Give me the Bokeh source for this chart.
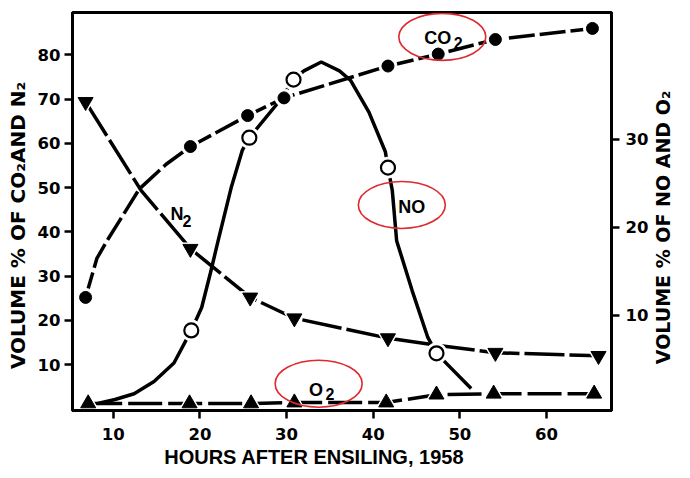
import math
from bokeh.plotting import figure
from bokeh.models import Range1d, LinearAxis, FixedTicker
from bokeh.core.properties import value
from bokeh.embed import file_html
from bokeh.resources import INLINE

# ---- data ----
co2_hours = [6.8, 18.9, 25.5, 29.7, 41.7, 47.5, 54.1, 65.3]
co2 = [25.2, 59.3, 66.3, 70.3, 77.5, 80.2, 83.5, 86.0]
co2_curve_hours = [6.8, 8.1, 9.4, 13.0, 16.1, 18.9, 25.5, 29.7, 41.7, 47.5, 54.1, 65.3]
co2_curve = [25.2, 34.0, 38.4, 49.7, 55.3, 59.3, 66.3, 70.3, 77.5, 80.2, 83.5, 86.0]

n2_hours = [6.8, 18.9, 25.8, 30.9, 41.7, 54.1, 66.0]
n2 = [69.4, 36.2, 25.2, 20.5, 16.0, 12.7, 12.0]
n2_curve_hours = [6.8, 13.2, 18.9, 25.8, 30.9, 41.7, 47.3, 54.1, 66.0]
n2_curve = [69.4, 49.4, 36.2, 25.2, 20.5, 16.0, 14.4, 12.7, 12.0]

o2_hours = [7.1, 18.8, 25.9, 30.9, 41.5, 47.3, 53.9, 65.5]
o2 = [0.0, 0.0, 0.0, 0.1, 0.1, 1.0, 1.1, 1.1]

no_hours = [19.0, 25.7, 30.8, 41.7, 47.3]
no = [8.3, 30.2, 36.8, 26.8, 5.7]
no_curve_hours = [8.2, 10.2, 12.4, 14.7, 17.0, 19.0, 20.2, 21.2, 22.1, 23.6, 24.9, 25.7,
                  29.2, 30.8, 32.0, 34.0, 36.1, 37.4, 39.5, 41.4, 41.7, 42.2, 42.7,
                  44.5, 46.3, 47.3, 48.5, 51.3]
no_curve = [0.0, 0.45, 1.1, 2.5, 4.6, 8.3, 10.9, 14.8, 18.5, 24.5, 28.8, 30.2,
            34.4, 36.8, 37.8, 38.8, 37.8, 36.7, 33.1, 28.6, 26.8, 24.2, 18.5,
            12.8, 7.5, 5.7, 4.5, 1.7]

x_ticks = [10, 20, 30, 40, 50, 60]
left_ticks = [10, 20, 30, 40, 50, 60, 70, 80]
right_ticks = [10, 20, 30]

label_x = [45.9, 16.6, 42.9, 32.6]
label_y = [83.8, 44.1, 45.7, 4.2]
label_text = ["CO", "N", "NO", "O"]
sub_x = [49.3, 18.0, 34.5]
sub_y = [82.6, 42.5, 3.3]
sub_text = ["2", "2", "2"]

ell_x = [47.97, 43.3, 33.7]
ell_y = [84.1, 46.1, 5.7]

FONT = "Liberation Sans"
WIDE = "DejaVu Sans"
RED = "#dc2a2f"
NB = "\u00a0"

p = figure(width=688, height=476, output_backend="svg", toolbar_location=None,
           x_range=Range1d(5.29, 67.5), y_range=Range1d(-0.36, 89.6),
           min_border_left=72, min_border_right=68, min_border_top=12, min_border_bottom=66)
p.extra_y_ranges = {"r": Range1d(-0.8, 44.43)}
p.grid.visible = False
p.outline_line_color = "black"
p.outline_line_width = 3
p.background_fill_color = "white"
p.border_fill_color = "white"

def style_axis(ax, ticks):
    ax.ticker = FixedTicker(ticks=ticks)
    ax.axis_line_width = 3
    ax.axis_line_color = "black"
    ax.major_tick_line_width = 2.5
    ax.major_tick_out = 8
    ax.major_tick_in = 0
    ax.minor_tick_line_color = None
    ax.major_label_text_font = WIDE
    ax.major_label_text_font_style = "bold"
    ax.major_label_text_font_size = "16.5px"
    ax.major_label_text_color = "black"
    ax.axis_label_text_font_style = "bold"
    ax.axis_label_text_color = "black"

style_axis(p.xaxis[0], x_ticks)
p.xaxis[0].axis_label = "HOURS AFTER ENSILING, 1958" + NB * 10
p.xaxis[0].axis_label_text_font = FONT
p.xaxis[0].axis_label_text_font_size = "20px"
p.xaxis[0].major_label_standoff = 9
p.xaxis[0].axis_label_standoff = 3

style_axis(p.yaxis[0], left_ticks)
p.yaxis[0].axis_label = "VOLUME % OF CO\u2082AND N\u2082" + NB * 4
p.yaxis[0].axis_label_text_font = WIDE
p.yaxis[0].axis_label_text_font_size = "20px"
p.yaxis[0].major_label_standoff = 4
p.yaxis[0].axis_label_standoff = 5

rax = LinearAxis(y_range_name="r")
style_axis(rax, right_ticks)
rax.major_label_standoff = 6
rax.axis_label_text_font = WIDE
rax.axis_label_text_font_size = "19px"
rax.axis_label_standoff = 12
rax.axis_label_orientation = math.pi / 2
rax.axis_label_align = "start"
rax.axis_label = NB * 7 + "VOLUME % OF NO AND O\u2082"
p.add_layout(rax, "right")

LW = 3.5
DASH = "26 5"
p.line(co2_curve_hours, co2_curve, line_color="black", line_width=LW, line_dash=DASH)
p.line(n2_curve_hours, n2_curve, line_color="black", line_width=LW, line_dash="40 5")
p.line(o2_hours, o2, line_color="black", line_width=LW, line_dash="34 6", y_range_name="r")
p.line(no_curve_hours, no_curve, line_color="black", line_width=LW, y_range_name="r")

# white halos around markers
p.scatter(co2_hours, co2, marker="circle", size=18, color="white")
p.scatter(n2_hours, n2, marker="inverted_triangle", size=20, color="white")
p.scatter(o2_hours, o2, marker="triangle", size=20, color="white", y_range_name="r")
p.scatter(no_hours, no, marker="circle", size=21, color="white", y_range_name="r")

p.scatter(co2_hours, co2, marker="circle", size=12, color="black")
p.scatter(n2_hours, n2, marker="inverted_triangle", size=15, color="black")
p.scatter(o2_hours, o2, marker="triangle", size=15, color="black", y_range_name="r")
p.scatter(no_hours, no, marker="circle", size=14, fill_color="white", line_color="black",
          line_width=2.2, y_range_name="r")

p.text(label_x, label_y, text=label_text, text_font=value(FONT), text_font_style="bold",
       text_font_size="18px", text_align="left", text_baseline="alphabetic", text_color="black")
p.text(sub_x, sub_y, text=sub_text, text_font=value(FONT), text_font_style="bold",
       text_font_size="16px", text_align="left", text_baseline="alphabetic", text_color="black")

p.ellipse(ell_x, ell_y, width=87, height=47, width_units="screen", height_units="screen",
          fill_alpha=0, line_color=RED, line_width=1.6)

open("out.html", "w").write(file_html(p, INLINE))
